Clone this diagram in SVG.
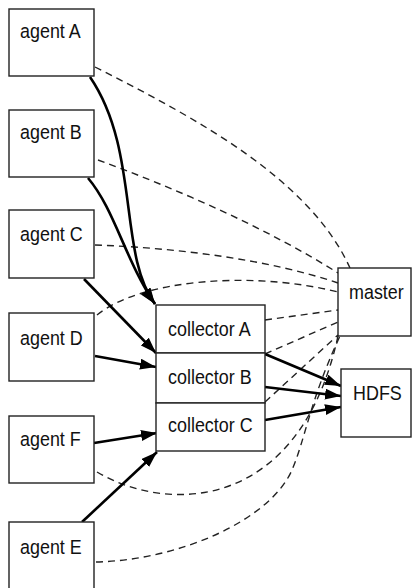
<svg xmlns="http://www.w3.org/2000/svg" width="413" height="588" viewBox="0 0 413 588">
<style>
.box{fill:#fff;stroke:#222;stroke-width:1.4}
.lbl{font-family:"Liberation Sans",Arial,sans-serif;font-size:19.5px;fill:#111}
.solid{fill:none;stroke:#000;stroke-width:2.6}
.dash{fill:none;stroke:#222;stroke-width:1.4;stroke-dasharray:7,5}
</style>
<defs>
<marker id="ah" markerUnits="userSpaceOnUse" markerWidth="17" markerHeight="12" refX="16" refY="5.5" orient="auto">
<path d="M0,0 L16,5.5 L0,11 z" fill="#000"/>
</marker>
</defs>
<rect width="413" height="588" fill="#fff"/>
<g id="connectors">
<path class="dash" d="M95,67 C200,120 310,180 350,268"/>
<path class="dash" d="M98,160 C180,190 270,230 338,273"/>
<path class="dash" d="M95,245 C180,248 270,260 338,283"/>
<path class="dash" d="M97,315 C140,280 250,270 338,292"/>
<path class="dash" d="M265,320 L338,310"/>
<path class="dash" d="M265,354 L338,322"/>
<path class="dash" d="M265,402 L338,335"/>
<path class="dash" d="M97,472 C170,515 300,510 338,336"/>
<path class="dash" d="M96,562 C180,560 270,520 292,470 C305,440 310,400 340,336"/>
<path class="solid" marker-end="url(#ah)" d="M90,77 C140,150 118,255 155,304"/>
<path class="solid" marker-end="url(#ah)" d="M88,178 C115,210 125,260 155,304"/>
<path class="solid" marker-end="url(#ah)" d="M84,279 L156,353"/>
<path class="solid" marker-end="url(#ah)" d="M95,356 L156,367"/>
<path class="solid" marker-end="url(#ah)" d="M94,443 L157,433"/>
<path class="solid" marker-end="url(#ah)" d="M82,522 L157,452"/>
<path class="solid" marker-end="url(#ah)" d="M265,354 L341,386"/>
<path class="solid" marker-end="url(#ah)" d="M265,387 L341,396"/>
<path class="solid" marker-end="url(#ah)" d="M265,420 L341,407"/>
</g>
<g id="agentA"><rect class="box" x="9" y="9" width="85" height="67"/><text class="lbl" transform="translate(20,38) scale(0.92,1)">agent A</text></g>
<g id="agentB"><rect class="box" x="9" y="110" width="85" height="67"/><text class="lbl" transform="translate(20,139) scale(0.92,1)">agent B</text></g>
<g id="agentC"><rect class="box" x="9" y="210" width="85" height="68"/><text class="lbl" transform="translate(20,241) scale(0.92,1)">agent C</text></g>
<g id="agentD"><rect class="box" x="9" y="313" width="85" height="68"/><text class="lbl" transform="translate(20,345) scale(0.92,1)">agent D</text></g>
<g id="agentF"><rect class="box" x="9" y="416" width="85" height="67"/><text class="lbl" transform="translate(20,446) scale(0.92,1)">agent F</text></g>
<g id="agentE"><rect class="box" x="9" y="522" width="85" height="70"/><text class="lbl" transform="translate(20,554) scale(0.92,1)">agent E</text></g>
<g id="collectorA"><rect class="box" x="156" y="305" width="109" height="48"/><text class="lbl" transform="translate(168,336) scale(0.92,1)">collector A</text></g>
<g id="collectorB"><rect class="box" x="156" y="353" width="109" height="50"/><text class="lbl" transform="translate(168,384) scale(0.92,1)">collector B</text></g>
<g id="collectorC"><rect class="box" x="156" y="403" width="109" height="48"/><text class="lbl" transform="translate(168,432) scale(0.92,1)">collector C</text></g>
<g id="master"><rect class="box" x="338" y="268" width="73" height="68"/><text class="lbl" transform="translate(349,299) scale(0.92,1)">master</text></g>
<g id="HDFS"><rect class="box" x="341" y="369" width="70" height="68"/><text class="lbl" transform="translate(353,400) scale(0.92,1)">HDFS</text></g>
</svg>
